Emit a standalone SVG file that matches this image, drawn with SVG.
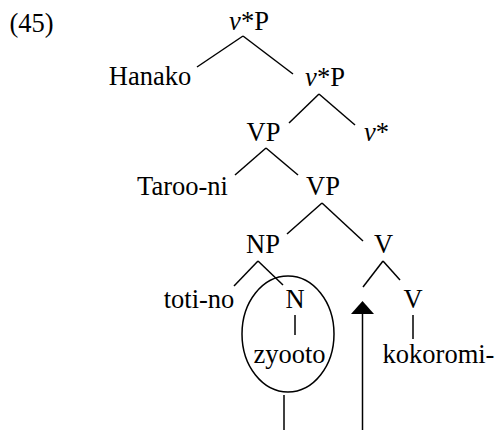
<svg xmlns="http://www.w3.org/2000/svg" width="502" height="430" viewBox="0 0 502 430">
<style>
text{font-size:26.5px;fill:#000;text-anchor:middle}
.i{font-style:italic}
line,ellipse{stroke:#000;stroke-width:1.5;fill:none}
</style>
<rect width="502" height="430" fill="#fff"/>
<g font-family="'Liberation Serif', 'Times New Roman', 'DejaVu Serif', serif">
<g id="label45"><text x="31.5" y="32">(45)</text></g>
<g id="n-vP1"><text x="249" y="30"><tspan class="i">v</tspan>*P</text></g>
<g id="n-Hanako"><text x="150" y="85">Hanako</text></g>
<g id="n-vP2"><text x="325" y="86"><tspan class="i">v</tspan>*P</text></g>
<g id="n-VP1"><text x="263.5" y="141">VP</text></g>
<g id="n-v"><text x="376.5" y="141"><tspan class="i">v</tspan>*</text></g>
<g id="n-Taroo"><text x="182.5" y="195">Taroo-ni</text></g>
<g id="n-VP2"><text x="323" y="195">VP</text></g>
<g id="n-NP"><text x="263" y="253">NP</text></g>
<g id="n-V1"><text x="383.5" y="253">V</text></g>
<g id="n-toti"><text x="199" y="308">toti-no</text></g>
<g id="n-N"><text x="295" y="308">N</text></g>
<g id="n-V2"><text x="413" y="308">V</text></g>
<g id="n-zyooto"><text x="289.5" y="363">zyooto</text><ellipse cx="288" cy="334" rx="46" ry="58"/></g>
<g id="n-kokoromi"><text x="438.5" y="363">kokoromi-</text></g>
</g>
<g id="connectors">
<line x1="243" y1="36" x2="197" y2="67"/>
<line x1="243" y1="36" x2="293" y2="74"/>
<line x1="319" y1="94" x2="289" y2="123"/>
<line x1="319" y1="94" x2="355" y2="125"/>
<line x1="266" y1="148" x2="235" y2="175"/>
<line x1="266" y1="148" x2="298" y2="175"/>
<line x1="322" y1="203" x2="287" y2="234"/>
<line x1="322" y1="203" x2="363" y2="241"/>
<line x1="258" y1="261" x2="234" y2="286"/>
<line x1="258" y1="261" x2="283" y2="285"/>
<line x1="383" y1="261" x2="363" y2="287"/>
<line x1="383" y1="261" x2="400" y2="280"/>
<line x1="295" y1="315" x2="295" y2="335"/>
<line x1="413" y1="315" x2="413" y2="339"/>
<line x1="284" y1="395" x2="284" y2="430"/>
<line x1="362.5" y1="430" x2="362.5" y2="312"/>
<polygon points="362.5,301 351,314 374,314" fill="#000"/>
</g>
</svg>
